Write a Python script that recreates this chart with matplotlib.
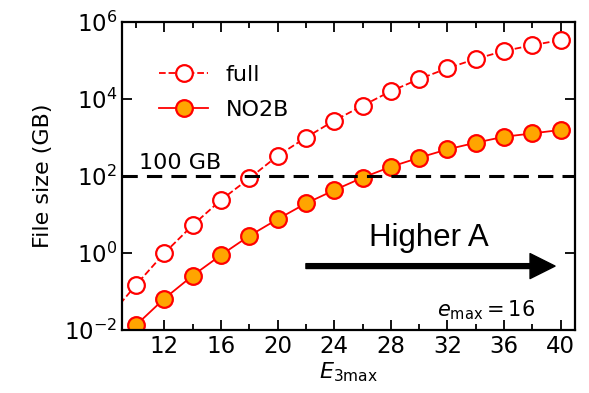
import numpy as np
import matplotlib
matplotlib.use('Agg')
import matplotlib.pyplot as plt

# Tamaño de fichero (GB) frente a E3max, emax = 16
e3max_full = [8, 10, 12, 14, 16, 18, 20, 22, 24, 26, 28, 30, 32, 34, 36, 38, 40]
size_full = [0.02, 0.15, 1.0, 5.3, 24, 87, 335, 1000, 2750, 6700, 16000,
             33000, 63000, 110000, 177000, 250000, 340000]

e3max_no2b = [10, 12, 14, 16, 18, 20, 22, 24, 26, 28, 30, 32, 34, 36, 38, 40]
size_no2b = [0.0135, 0.066, 0.26, 0.89, 2.8, 7.6, 19.5, 43, 91, 174, 300,
             494, 735, 1050, 1280, 1580]

limite_gb = 100

fig = plt.figure(figsize=(5.89, 3.93), dpi=100)
ax = fig.add_axes([0.207, 0.160, 0.769, 0.784])

ax.plot(e3max_full, size_full, '--o', color='red', mfc='white', mec='red',
        ms=12, mew=1.6, lw=1.3, label='full')
ax.plot(e3max_no2b, size_no2b, '-o', color='red', mfc='orange', mec='red',
        ms=12, mew=1.6, lw=1.3, label='NO2B')

ax.axhline(limite_gb, color='black', ls='--', lw=2.2, dashes=(5, 3))
ax.text(10.2, limite_gb * 1.2, '100 GB', fontsize=16, ha='left', va='bottom')

# Flecha "Higher A"
ax.annotate('', xy=(39.6, 0.46), xytext=(22.0, 0.46),
            arrowprops=dict(width=3.5, headwidth=18, headlength=18,
                            facecolor='black', edgecolor='black',
                            shrink=0))
ax.text(30.7, 2.4, 'Higher A', fontsize=22.5, ha='center', va='center',
        family='Liberation Sans')
ax.text(34.7, 0.033, r'$e_{\mathrm{max}} = 16$', fontsize=15,
        ha='center', va='center')

ax.set_yscale('log')
ax.set_xlim(9, 41)
ax.set_ylim(1e-2, 1e6)
ax.set_yticks([1e-2, 1e0, 1e2, 1e4, 1e6])
ax.yaxis.set_minor_locator(matplotlib.ticker.NullLocator())
ax.set_xticks([12, 16, 20, 24, 28, 32, 36, 40])
ax.set_xticks(np.arange(10, 41, 2), minor=True)

ax.tick_params(which='both', direction='in', top=True, right=True, labelsize=16.5)
ax.tick_params(which='major', length=7, width=1.3)
ax.tick_params(which='minor', length=4, width=1.3)
for s in ax.spines.values():
    s.set_linewidth(1.6)

ax.set_xlabel(r'$E_{\rm 3max}$', fontsize=16, labelpad=2)
ax.set_ylabel('File size (GB)', fontsize=16, labelpad=8)

ax.legend(loc='upper left', bbox_to_anchor=(0.038, 0.925), frameon=False,
          fontsize=16, handlelength=2.2, labelspacing=0.65)

fig.savefig('out.png', dpi=100)
